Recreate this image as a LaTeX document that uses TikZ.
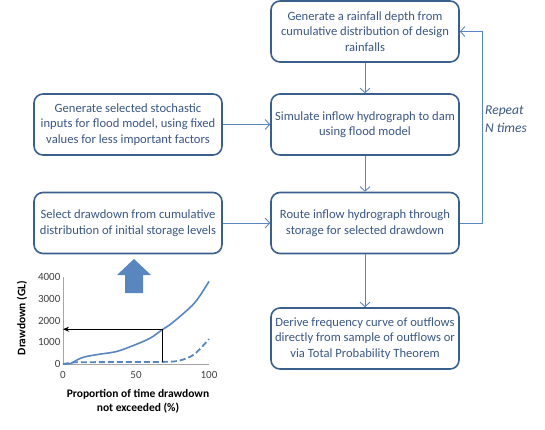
\documentclass[tikz,border=0pt]{standalone}
\usepackage{fontspec}
\setmainfont{Carlito}
\usepackage{tikz}
\usetikzlibrary{arrows,arrows.meta}
\definecolor{boxline}{HTML}{3A5F8C}
\definecolor{boxtext}{HTML}{3B5783}
\definecolor{flowline}{HTML}{5A86C0}
\definecolor{axisgray}{HTML}{A6A6A6}
\definecolor{ticktext}{HTML}{404040}

\begin{document}
\begin{tikzpicture}[x=1pt,y=-1pt,
    stage/.style={draw=boxline, line width=1.6pt, rounded corners=9pt, fill=white,
      text=boxtext, minimum width=188pt, minimum height=61pt,
      align=center, inner sep=0pt, font=\fontsize{12.6}{15.5}\selectfont},
    flow/.style={draw=flowline, line width=0.9pt, -{Straight Barb[length=4.5pt,width=10pt]}},
    curve/.style={draw=flowline, line width=1.6pt},
    ticklab/.style={text=ticktext, font=\fontsize{11}{12}\selectfont, inner sep=1pt}]
  \useasboundingbox (0,0) rectangle (545,429);

  % flow chart
  \node [stage] (rain)   at (365,31.5)  {Generate a rainfall depth from\\cumulative distribution of design\\rainfalls};
  \node [stage] (sim)    at (365,124.5) {Simulate inflow hydrograph to dam\\using flood model};
  \node [stage] (route)  at (365,223)   {Route inflow hydrograph through\\storage for selected drawdown};
  \node [stage] (derive) at (365,338.5) {Derive frequency curve of outflows\\directly from sample of outflows or\\via Total Probability Theorem};
  \node [stage] (inputs) at (128,124.5) {Generate selected stochastic\\inputs for flood model, using fixed\\values for less important factors};
  \node [stage] (select) at (128,223)   {Select drawdown from cumulative\\distribution of initial storage levels};

  \draw [flow] (rain) -- (sim);
  \draw [flow] (sim) -- (route);
  \draw [flow] (route) -- (derive);
  \draw [flow] (inputs) -- (sim);
  \draw [flow] (select) -- (route);
  \draw [flow] (route.east) -- ++(23,0) |- (rain.east);
  \node [anchor=west, align=left, text=boxtext, inner sep=0pt,
    font=\fontsize{13.5}{18}\selectfont\itshape] (repeat) at (485,119) {Repeat\\N times};

  % block arrow
  \fill [flowline] (125,293) -- (125,275) -- (117,275) -- (134,259)
    -- (151,275) -- (143,275) -- (143,293) -- cycle;

  % drawdown curve
  \begin{scope}[shift={(63,364)}, x=1.46pt, y=0.02175pt]
    \draw [axisgray, line width=0.6pt] (0,4000) -- (0,0) -- (100,0);
    \foreach \v in {0,1000,2000,3000,4000}
      \node [ticklab, anchor=east] (ylab\v) at (-1,\v) {\v};
    \foreach \v in {0,50,100}
      \node [ticklab, anchor=north, yshift=-6pt] (xlab\v) at (\v,0) {\v};
    \draw [curve] plot [smooth, tension=0.5] coordinates {(0,0) (5,20) (10,200) (15,330)
      (25,450) (37,580) (50,900) (60,1200) (68,1580) (75,1900) (90,2800) (100,3800)};
    \draw [curve, line width=1.8pt, dash pattern=on 6pt off 3pt] plot [smooth, tension=0.5] coordinates {(0,0) (5,50)
      (10,80) (40,90) (70,100) (80,160) (90,450) (100,1150)};
    \coordinate (pfoot) at (68,100);
    \coordinate (pick) at (68,1600);
    \coordinate (yhit) at (0,1600);
    \draw [line width=0.8pt, -{Stealth[length=6pt,width=5pt]}] (pfoot) -- (pick) -- (yhit);
  \end{scope}
  \node [rotate=90, text=black, font=\fontsize{11.5}{12}\selectfont\bfseries] (ytitle) at (22,318) {Drawdown (GL)};
  \node [align=center, text=black, font=\fontsize{11.5}{13.5}\selectfont\bfseries] (xtitle) at (138,401.5)
    {Proportion of time drawdown\\not exceeded (\%)};
\end{tikzpicture}
\end{document}
